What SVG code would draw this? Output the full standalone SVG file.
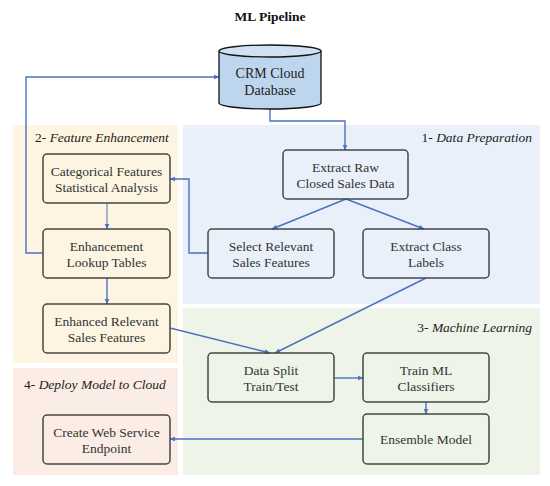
<svg xmlns="http://www.w3.org/2000/svg" width="550" height="486" viewBox="0 0 550 486">
<defs>
<style>
text{font-family:"Liberation Serif","Tinos","Times New Roman","DejaVu Serif",serif}
.t{font-size:13.5px;fill:#333;text-anchor:middle}
.sec{font-size:13.5px;fill:#222}
.it{font-style:italic}
.box{fill:none;stroke:#454545;stroke-width:1.5}
.c{fill:none;stroke:#4a72c0;stroke-width:1.4}
</style>
<marker id="ah" viewBox="0 0 10 10" refX="9" refY="5" markerWidth="6" markerHeight="6" orient="auto" markerUnits="userSpaceOnUse">
<path d="M0,1 L10,5 L0,9 Z" fill="#4a72c0"/>
</marker>
</defs>
<rect width="550" height="486" fill="#fff"/>
<text x="270" y="21" font-family="Liberation Serif, serif" font-size="13.5" font-weight="bold" fill="#111" text-anchor="middle">ML Pipeline</text>

<g id="regions">
<rect x="13" y="125" width="165" height="238" fill="#fdf5e1"/>
<rect x="183" y="125" width="357" height="179" fill="#e9f0f9"/>
<rect x="183" y="308" width="357" height="167" fill="#eef4e7"/>
<rect x="13" y="368" width="165" height="107" fill="#fbede5"/>
<text class="sec" x="35" y="142">2- <tspan class="it">Feature Enhancement</tspan></text>
<text class="sec" x="532" y="142" text-anchor="end">1- <tspan class="it">Data Preparation</tspan></text>
<text class="sec" x="532" y="332" text-anchor="end">3- <tspan class="it">Machine Learning</tspan></text>
<text class="sec" x="24" y="389">4- <tspan class="it">Deploy Model to Cloud</tspan></text>
</g>

<g id="connectors">
<path class="c" d="M270,109 V121 H345 V150" marker-end="url(#ah)"/>
<path class="c" d="M43,253 H26 V77 H219" marker-end="url(#ah)"/>
<path class="c" d="M208,253 H189 V179 H170" marker-end="url(#ah)"/>
<path class="c" d="M107,203 V229" marker-end="url(#ah)" style="stroke:#7d97c6"/>
<path class="c" d="M107,278 V304" marker-end="url(#ah)"/>
<path class="c" d="M346,199 L272,229" marker-end="url(#ah)"/>
<path class="c" d="M346,199 L424,229" marker-end="url(#ah)"/>
<path class="c" d="M426,278 L275,353" marker-end="url(#ah)"/>
<path class="c" d="M170,328 L270,353" marker-end="url(#ah)"/>
<path class="c" d="M334,378 H363" marker-end="url(#ah)"/>
<path class="c" d="M426,402 V414" marker-end="url(#ah)"/>
<path class="c" d="M363,439 H170" marker-end="url(#ah)"/>
</g>

<g id="crm-db">
<path d="M219,51 V103 A51,6 0 0 0 321,103 V51" fill="#bdd6ee" stroke="#111" stroke-width="1.3"/>
<ellipse cx="270" cy="51" rx="51" ry="6" fill="#cfe1f3" stroke="#111" stroke-width="1.3"/>
<text class="t" x="270" y="78" style="font-size:14px;fill:#222">CRM Cloud</text>
<text class="t" x="270" y="95" style="font-size:14px;fill:#222">Database</text>
</g>

<g id="cat-features">
<rect class="box" x="43" y="154" width="127" height="49" rx="4"/>
<text class="t" x="106.5" y="176">Categorical Features</text>
<text class="t" x="106.5" y="191.5">Statistical Analysis</text>
</g>
<g id="lookup-tables">
<rect class="box" x="43" y="229" width="127" height="49" rx="4"/>
<text class="t" x="106.5" y="251">Enhancement</text>
<text class="t" x="106.5" y="266.5">Lookup Tables</text>
</g>
<g id="enhanced-features">
<rect class="box" x="43" y="304" width="127" height="49" rx="4"/>
<text class="t" x="106.5" y="326">Enhanced Relevant</text>
<text class="t" x="106.5" y="341.5">Sales Features</text>
</g>
<g id="web-service">
<rect class="box" x="43" y="415" width="127" height="49" rx="4"/>
<text class="t" x="106.5" y="437">Create Web Service</text>
<text class="t" x="106.5" y="452.5">Endpoint</text>
</g>
<g id="extract-raw">
<rect class="box" x="283" y="150" width="125" height="49" rx="4"/>
<text class="t" x="345.5" y="172">Extract Raw</text>
<text class="t" x="345.5" y="188">Closed Sales Data</text>
</g>
<g id="select-features">
<rect class="box" x="208" y="229" width="126" height="49" rx="4"/>
<text class="t" x="271" y="251">Select Relevant</text>
<text class="t" x="271" y="267">Sales Features</text>
</g>
<g id="class-labels">
<rect class="box" x="363" y="229" width="126" height="49" rx="4"/>
<text class="t" x="426" y="251">Extract Class</text>
<text class="t" x="426" y="267">Labels</text>
</g>
<g id="data-split">
<rect class="box" x="208" y="353" width="126" height="49" rx="4"/>
<text class="t" x="271" y="375">Data Split</text>
<text class="t" x="271" y="391">Train/Test</text>
</g>
<g id="train-ml">
<rect class="box" x="363" y="353" width="126" height="49" rx="4"/>
<text class="t" x="426" y="375">Train ML</text>
<text class="t" x="426" y="391">Classifiers</text>
</g>
<g id="ensemble">
<rect class="box" x="363" y="414" width="126" height="50" rx="4"/>
<text class="t" x="426" y="443.5">Ensemble Model</text>
</g>
</svg>
